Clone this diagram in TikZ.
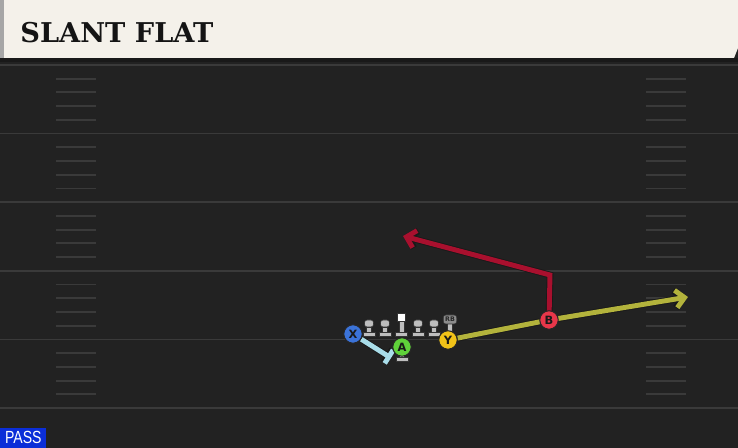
\documentclass[tikz,border=0pt]{standalone}
\usepackage{fontspec}
\usetikzlibrary{arrows.meta}
\newfontfamily\titlefont{DejaVu Serif Bold}
\newfontfamily\playerfont{DejaVu Sans Bold}
\newfontfamily\tagfont{Liberation Sans}

\definecolor{cream}{HTML}{F4F1EA}
\definecolor{turf}{HTML}{222222}
\definecolor{chalk}{HTML}{3A3A3A}
\definecolor{xblue}{HTML}{3B73D9}
\definecolor{agreen}{HTML}{5FD13A}
\definecolor{yyellow}{HTML}{F2C318}
\definecolor{bred}{HTML}{E8374A}
\definecolor{blockblue}{HTML}{A9DDE9}
\definecolor{flatolive}{HTML}{B3B33C}
\definecolor{slantred}{HTML}{A8102E}
\definecolor{passblue}{HTML}{0B2ED8}
\definecolor{manGrey}{HTML}{BEBEBE}

\pgfdeclarelayer{field}
\pgfdeclarelayer{routes}
\pgfsetlayers{field,routes,main}

% one lineman icon: \lineman(x,top)
\def\lineman(#1,#2){
	\draw[fill=manGrey, draw=black!80, line width=0.3pt, rounded corners=1.5pt] (#1-4.5,#2) rectangle (#1+4.5,#2+7);
	\draw[fill=manGrey, draw=black!80, line width=0.3pt] (#1-2.5,#2+7) rectangle (#1+2.5,#2+12);
	\draw[fill=manGrey, draw=black!80, line width=0.3pt] (#1-6,#2+12) rectangle (#1+6,#2+16);
}

\tikzset{
	player/.style={circle, draw=black!85, line width=0.6pt, inner sep=0pt, minimum size=0.37cm,
		font=\playerfont\fontsize{6.5}{7}\selectfont, text=black!90},
	route/.style={line width=2.8pt, line join=miter,
		preaction={draw=black!90, line width=3.8pt}},
	routetip/.style={-{Straight Barb[length=5pt, width=10pt]}},
}

\begin{document}
\begin{tikzpicture}[x=0.02cm, y=-0.02cm]
	%%%%% START %%%%%
	\useasboundingbox (0,0) rectangle (738,448);

	\begin{pgfonlayer}{field}
		\fill[turf] (0,0) rectangle (738,448);
		% yard lines and hash marks
		\foreach \yl in {65,133.6,202.2,270.8,339.4} {
			\draw[chalk, line width=1pt] (0,\yl) -- (738,\yl);
			\foreach \k in {1,...,4} {
				\draw[chalk, line width=1.1pt] (56,\yl+\k*13.72) -- (96,\yl+\k*13.72);
				\draw[chalk, line width=1.1pt] (646,\yl+\k*13.72) -- (686,\yl+\k*13.72);
			}
		}
		\draw[chalk, line width=1pt] (0,408) -- (738,408);

		% header
		\fill[black!90] (0,58) rectangle (738,62);
		\fill[cream] (0,0) -- (738,0) -- (738,48) -- (734,58) -- (0,58) -- cycle;
		\fill[black!35] (0,0) rectangle (4,58);
	\end{pgfonlayer}

	\node[anchor=base west, inner sep=0pt, text=black!92,
		font=\titlefont\fontsize{15.5}{17}\selectfont] (title) at (20,43) {SLANT FLAT};

	% offensive line
	\lineman(369,320)
	\lineman(385,320)
	\lineman(418,320)
	\lineman(434,320)
	\draw[fill=white, draw=black!80, line width=0.3pt] (397.5,313) rectangle (405.5,321);
	\draw[fill=manGrey, draw=black!80, line width=0.3pt] (399,321) rectangle (404,332);
	\draw[fill=manGrey, draw=black!80, line width=0.3pt] (395.5,332) rectangle (407.5,336);

	% qb under A
	\draw[fill=manGrey, draw=black!80, line width=0.3pt] (399.5,352) rectangle (404.5,357);
	\draw[fill=manGrey, draw=black!80, line width=0.3pt] (396,357) rectangle (408,361);

	% running back tag above Y
	\draw[fill=manGrey, draw=black!80, line width=0.3pt] (447,323) rectangle (452,332);
	\node[fill=black!45, draw=black!80, line width=0.3pt, rounded corners=1.5pt, inner sep=0.6pt,
		minimum width=0.27cm, minimum height=0.18cm,
		font=\playerfont\fontsize{3.6}{4}\selectfont, text=black!85] (rb) at (450,319.5) {RB};

	% receivers
	\node[player, fill=xblue] (X) at (353,334) {X};
	\node[player, fill=agreen] (A) at (402,347) {A};
	\node[player, fill=yyellow] (Y) at (448,340) {Y};
	\node[player, fill=bred] (B) at (549,320) {B};

	\coordinate (xend) at (391,358);
	\coordinate (yend) at (688,297);
	\coordinate (bbreak) at (550,275);
	\coordinate (bend) at (403,236);

	\begin{pgfonlayer}{routes}
		\draw[route, routetip, flatolive] (Y) -- (B.center) -- (yend);
		\draw[route, routetip, slantred] (B.center) -- (bbreak) -- (bend);
		\draw[route, blockblue, -{Bar[width=9pt]}] (X) -- (xend);
	\end{pgfonlayer}

	\node[fill=passblue, inner sep=0pt, minimum width=0.92cm, minimum height=0.4cm, anchor=south west,
		text=white, font=\tagfont\fontsize{10}{11}\selectfont] (playtype) at (0,448) {\scalebox{0.8}[1]{PASS}};

	%%%%% END %%%%%
\end{tikzpicture}
\end{document}
